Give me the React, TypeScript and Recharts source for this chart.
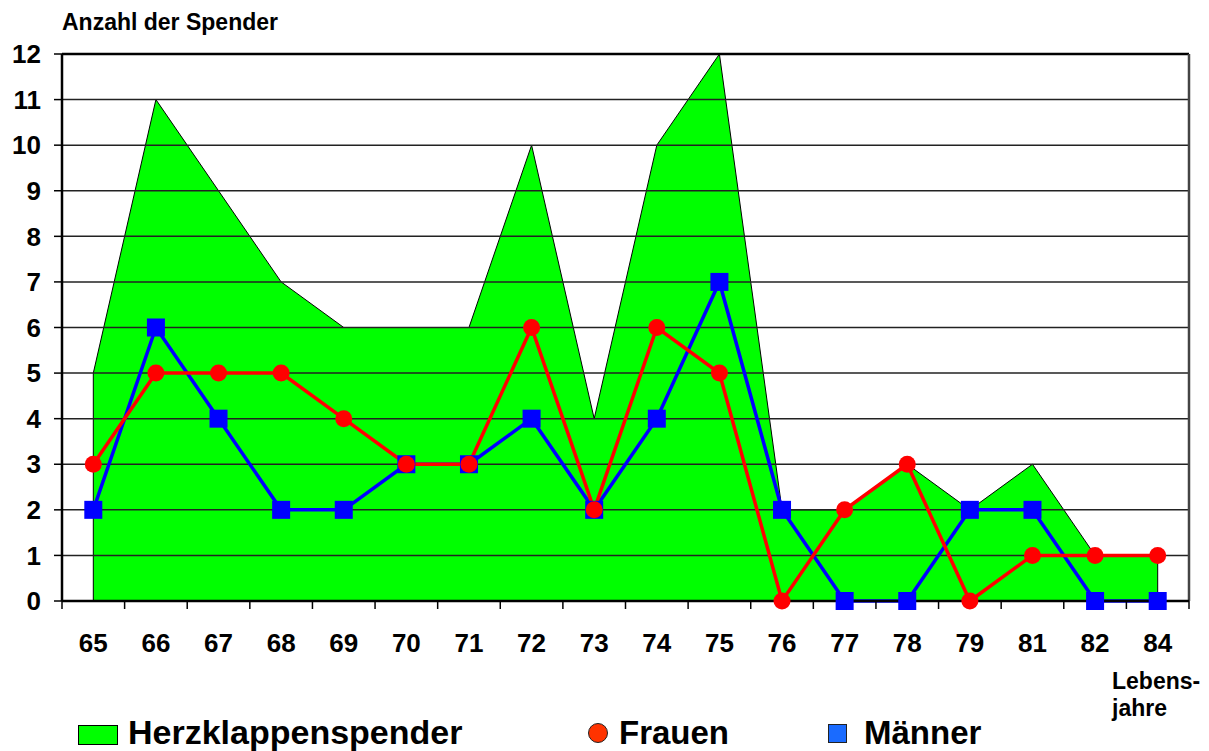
import React from 'react';
import { ComposedChart, Area, Line, XAxis, YAxis, ReferenceLine } from 'recharts';

// Lebensjahre der Spender (Kategorien)
const ages = ['65', '66', '67', '68', '69', '70', '71', '72', '73', '74', '75', '76', '77', '78', '79', '81', '82', '84'];
const totalDonors = [5, 11, 9, 7, 6, 6, 6, 10, 4, 10, 12, 2, 2, 3, 2, 3, 1, 1];
const women = [3, 5, 5, 5, 4, 3, 3, 6, 2, 6, 5, 0, 2, 3, 0, 1, 1, 1];
const men = [2, 6, 4, 2, 2, 3, 3, 4, 2, 4, 7, 2, 0, 0, 2, 2, 0, 0];
const yTicks = [0, 1, 2, 3, 4, 5, 6, 7, 8, 9, 10, 11, 12];

const FONT = '"Liberation Sans", Arial, sans-serif';

const data = ages.map((a, i) => ({ idx: i, age: a, total: totalDonors[i], frauen: women[i], maenner: men[i] }));

// ticks at category centres (labels) and at category edges (tick marks)
const xTicks: number[] = [];
for (let i = 0; i <= ages.length; i++) {
  xTicks.push(i - 0.5);
  if (i < ages.length) xTicks.push(i);
}
const last = ages.length - 1;

function AgeTick({ x, y, payload }: any) {
  const v = payload.value as number;
  if (Number.isInteger(v)) {
    return (
      <text x={x} y={y + 51} textAnchor="middle" fontFamily={FONT} fontWeight="bold" fontSize={26} fill="#000">
        {ages[v]}
      </text>
    );
  }
  return <line x1={x} y1={y} x2={x} y2={y + 8} stroke="#000" strokeWidth={1.5} />;
}

function SquareDot({ cx, cy, index }: any) {
  return <rect key={`sq-${index}`} x={cx - 9} y={cy - 9} width={18} height={18} fill="#0000FF" />;
}

function CircleDot({ cx, cy, index }: any) {
  return <circle key={`ci-${index}`} cx={cx} cy={cy} r={8.5} fill="#FF0000" />;
}

const textStyle: React.CSSProperties = {
  position: 'absolute',
  fontFamily: FONT,
  fontWeight: 'bold',
  color: '#000',
  whiteSpace: 'nowrap',
  lineHeight: 1,
};

export default function App() {
  return (
    <div style={{ position: 'absolute', left: 0, top: 0, width: 1209, height: 751, background: '#fff', overflow: 'hidden' }}>
      <ComposedChart width={1209} height={751} data={data} margin={{ top: 54, right: 20, bottom: 90, left: 0 }}>
        <XAxis
          xAxisId={0}
          dataKey="idx"
          type="number"
          domain={[-0.5, 17.5]}
          ticks={xTicks}
          interval={0}
          tickLine={false}
          tickSize={0}
          tickMargin={0}
          height={60}
          axisLine={{ stroke: '#000', strokeWidth: 2.5 }}
          tick={<AgeTick />}
        />
        <YAxis
          type="number"
          domain={[0, 12]}
          ticks={yTicks}
          interval={0}
          width={62}
          tickSize={8}
          tickMargin={13}
          axisLine={{ stroke: '#000', strokeWidth: 2.5 }}
          tickLine={{ stroke: '#000', strokeWidth: 1.5 }}
          tick={{ fontFamily: FONT, fontWeight: 'bold', fontSize: 26, fill: '#000' }}
        />
        <Area
          type="linear"
          dataKey="total"
          stroke="#000"
          strokeWidth={1}
          fill="#00FF00"
          fillOpacity={1}
          isAnimationActive={false}
        />
        <ReferenceLine segment={[{ x: 0, y: 0 }, { x: 0, y: totalDonors[0] }]} stroke="#000" strokeWidth={1} />
        <ReferenceLine segment={[{ x: last, y: 0 }, { x: last, y: totalDonors[last] }]} stroke="#000" strokeWidth={1} />
        {yTicks.slice(1).map(t => (
          <ReferenceLine key={t} y={t} stroke={t === 12 ? '#000' : '#222'} strokeWidth={t === 12 ? 2.5 : 1.5} />
        ))}
        <ReferenceLine x={17.5} stroke="#444" strokeWidth={2.5} />
        <Line
          type="linear"
          dataKey="maenner"
          stroke="#0000FF"
          strokeWidth={3.5}
          dot={<SquareDot />}
          activeDot={false}
          isAnimationActive={false}
        />
        <Line
          type="linear"
          dataKey="frauen"
          stroke="#FF0000"
          strokeWidth={3.5}
          dot={<CircleDot />}
          activeDot={false}
          isAnimationActive={false}
        />
      </ComposedChart>

      <div style={{ ...textStyle, left: 62, top: 11, fontSize: 23 }}>Anzahl der Spender</div>
      <div style={{ ...textStyle, left: 1112, top: 668, fontSize: 23, lineHeight: '27px' }}>
        Lebens-<br />jahre
      </div>

      <div style={{ position: 'absolute', left: 78, top: 725, width: 40, height: 20, background: '#00FF00', border: '1px solid #000', boxSizing: 'border-box' }} />
      <div style={{ ...textStyle, left: 128, top: 715, fontSize: 34 }}>Herzklappenspender</div>

      <div style={{ position: 'absolute', left: 588, top: 723, width: 20, height: 20, borderRadius: '50%', background: '#FF3300', border: '1px solid #222', boxSizing: 'border-box' }} />
      <div style={{ ...textStyle, left: 619, top: 716, fontSize: 33 }}>Frauen</div>

      <div style={{ position: 'absolute', left: 828, top: 724, width: 19, height: 19, background: '#1A6BFF', border: '1px solid #222', boxSizing: 'border-box' }} />
      <div style={{ ...textStyle, left: 864, top: 716, fontSize: 33 }}>Männer</div>
    </div>
  );
}
